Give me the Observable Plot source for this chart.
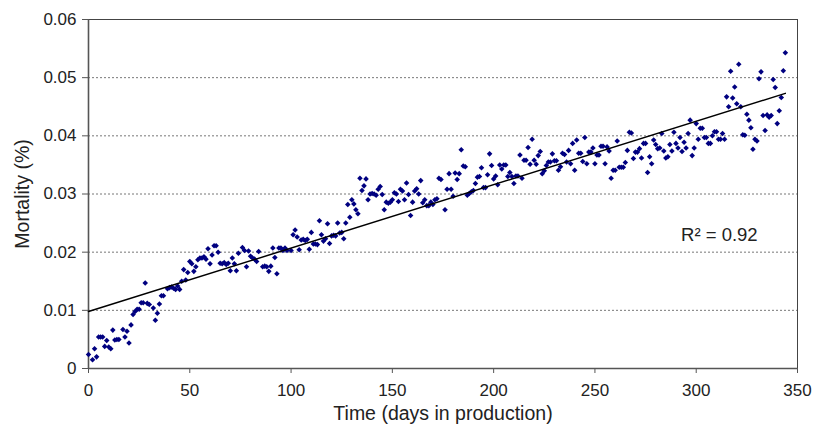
<!DOCTYPE html>
<html><head><meta charset="utf-8">
<script src="https://cdn.jsdelivr.net/npm/d3@7"></script>
<script src="https://cdn.jsdelivr.net/npm/@observablehq/plot@0.6"></script>
<style>body{margin:0;background:#fff}</style>
</head><body><div id="chart"></div>
<script>
const days = [0,2,3,4,5,6,7,8,9,10,11,12,13,14,15,17,18,19,20,21,22,23,24,25,26,27,28,29,30,32,33,34,35,36,37,39,40,41,42,43,44,
45,46,47,48,49,50,51,52,53,54,55,56,57,58,59,60,61,62,63,64,65,66,67,68,69,70,71,72,73,74,76,77,78,79,80,81,82,83,84,86,87,88,89,90,91,92,93,94,
95,96,97,98,100,101,102,103,104,105,106,107,108,109,110,111,112,113,114,115,116,117,118,119,120,121,122,123,124,125,126,127,128,129,130,131,132,133,134,135,136,137,138,139,140,
141,142,143,144,145,146,147,148,149,150,151,152,153,154,155,156,157,158,159,160,161,162,163,164,165,166,167,168,169,170,171,172,173,174,176,177,178,179,180,181,182,183,184,185,186,
187,188,189,190,191,192,193,194,195,196,197,198,199,200,201,202,203,204,205,206,207,208,209,210,211,212,213,214,215,216,217,218,219,220,221,222,223,224,225,226,227,228,229,230,231,232,233,234,
235,236,237,238,239,240,241,242,243,244,245,246,247,248,249,250,251,252,253,254,255,256,257,258,259,260,261,262,263,264,265,266,267,268,269,270,271,272,273,274,275,276,277,278,279,280,
281,282,283,284,285,286,287,288,289,290,291,292,293,294,295,296,297,298,299,300,301,302,303,304,305,306,307,308,309,310,311,312,313,314,315,316,317,318,319,320,321,322,
323,324,325,326,327,328,329,330,331,332,333,334,335,336,337,338,339,340,341,342,343,344];

const mortality = [.0024,.0015,.0034,.0020,.0054,.0054,.0054,.0038,.0048,.0037,.0034,.0066,.0049,.0050,.0050,.0067,.0054,.0064,.0044,.0075,.0093,.0098,.0102,.0102,.0113,.0113,.0147,.0112,.0110,.0104,.0083,.0095,.0111,.0125,.0125,.0137,.0139,.0140,.0138,.0136,.0142,
.0136,.0150,.0170,.0152,.0165,.0184,.0180,.0167,.0175,.0187,.0190,.0190,.0192,.0188,.0206,.0180,.0195,.0211,.0211,.0200,.0181,.0180,.0182,.0179,.0181,.0168,.0190,.0180,.0168,.0198,.0208,.0203,.0175,.0202,.0193,.0190,.0188,.0184,.0201,.0175,.0176,.0175,.0167,.0176,.0207,.0191,.0163,.0207,
.0207,.0203,.0207,.0203,.0203,.0230,.0238,.0226,.0204,.0221,.0222,.0220,.0222,.0205,.0234,.0214,.0214,.0213,.0254,.0230,.0219,.0223,.0249,.0215,.0228,.0229,.0228,.0250,.0233,.0234,.0223,.0250,.0282,.0260,.0290,.0283,.0273,.0266,.0327,.0306,.0314,.0326,.0290,.0300,.0301,
.0300,.0298,.0308,.0313,.0299,.0273,.0286,.0284,.0286,.0290,.0302,.0300,.0287,.0308,.0305,.0290,.0319,.0299,.0263,.0286,.0305,.0309,.0300,.0323,.0285,.0290,.0280,.0280,.0286,.0282,.0290,.0292,.0327,.0325,.0273,.0308,.0335,.0308,.0296,.0336,.0325,.0335,.0376,.0348,.0347,
.0298,.0301,.0304,.0306,.0318,.0329,.0330,.0345,.0311,.0311,.0333,.0369,.0349,.0326,.0331,.0316,.0350,.0343,.0350,.0350,.0330,.0337,.0330,.0318,.0331,.0331,.0367,.0327,.0358,.0358,.0380,.0351,.0394,.0358,.0351,.0366,.0373,.0335,.0340,.0349,.0355,.0355,.0369,.0357,.0357,.0341,.0347,.0370,
.0368,.0355,.0375,.0352,.0387,.0341,.0393,.0370,.0370,.0356,.0397,.0352,.0372,.0372,.0379,.0352,.0367,.0367,.0382,.0382,.0352,.0381,.0374,.0327,.0341,.0341,.0391,.0346,.0346,.0346,.0354,.0375,.0406,.0405,.0361,.0372,.0372,.0378,.0362,.0387,.0387,.0337,.0364,.0352,.0393,.0385,
.0378,.0379,.0404,.0374,.0362,.0364,.0385,.0374,.0406,.0387,.0379,.0397,.0373,.0389,.0379,.0404,.0427,.0366,.0379,.0421,.0394,.0413,.0413,.0397,.0397,.0387,.0387,.0400,.0407,.0407,.0394,.0394,.0404,.0394,.0467,.0450,.0511,.0465,.0484,.0455,.0523,.0450,
.0402,.0401,.0437,.0427,.0414,.0377,.0394,.0391,.0498,.0510,.0435,.0409,.0436,.0432,.0435,.0497,.0483,.0421,.0443,.0466,.0512,.0543];

const trendDays = [0, 344];
const trendValues = [0.0098, 0.0473];
const xTicks = [0, 50, 100, 150, 200, 250, 300, 350];
const yTicks = [0, 0.01, 0.02, 0.03, 0.04, 0.05, 0.06];
const gridValues = [0.01, 0.02, 0.03, 0.04, 0.05];
const xTitle = "Time (days in production)";
const yTitle = "Mortality (%)";
const rSquaredText = "R² = 0.92";
const rSquaredAt = [292.5, 0.0229];

const points = days.map((d, i) => ({day: d, value: mortality[i]}));
const trend = trendDays.map((d, i) => ({day: d, value: trendValues[i]}));

const chart = Plot.plot({
  width: 815,
  height: 426,
  marginLeft: 88,
  marginRight: 18,
  marginTop: 19,
  marginBottom: 58,
  style: {fontFamily: "'Liberation Sans', Arial, sans-serif", fontSize: "17px", color: "#222", background: "#fff"},
  x: {domain: [0, 350], axis: null},
  y: {domain: [0, 0.06], axis: null},
  marks: [
    Plot.ruleY(gridValues, {stroke: "#777", strokeDasharray: "2,2", strokeWidth: 1}),
    Plot.frame({stroke: "#444", strokeWidth: 1}),
    Plot.ruleX([0], {stroke: "#555", strokeWidth: 1.6}),
    Plot.ruleY([0], {stroke: "#555", strokeWidth: 1.6}),
    Plot.axisX({ticks: xTicks, tickSize: 5, tickPadding: 10, stroke: "#555", fill: "#222", label: null}),
    Plot.axisY({ticks: yTicks, tickSize: 6, tickPadding: 6, stroke: "#555", fill: "#222", label: null,
      tickFormat: d => d === 0 ? "0" : d.toFixed(2)}),
    Plot.dot(points, {x: "day", y: "value", symbol: "diamond2", r: 2.5, fill: "#000080", stroke: "none"}),
    Plot.line(trend, {x: "day", y: "value", stroke: "#000", strokeWidth: 1.5}),
    Plot.text([rSquaredText], {x: () => rSquaredAt[0], y: () => rSquaredAt[1], text: d => d, textAnchor: "start", fontSize: 18.5, fill: "#222"}),
    Plot.text([xTitle], {frameAnchor: "bottom", dy: 45, lineAnchor: "middle", textAnchor: "middle", text: d => d, fontSize: 19.5, fill: "#222"}),
    Plot.text([yTitle], {frameAnchor: "left", dx: -66, rotate: -90, lineAnchor: "middle", textAnchor: "middle", text: d => d, fontSize: 19.5, fill: "#222"})
  ]
});
document.getElementById("chart").appendChild(chart);
</script>
</body></html>
